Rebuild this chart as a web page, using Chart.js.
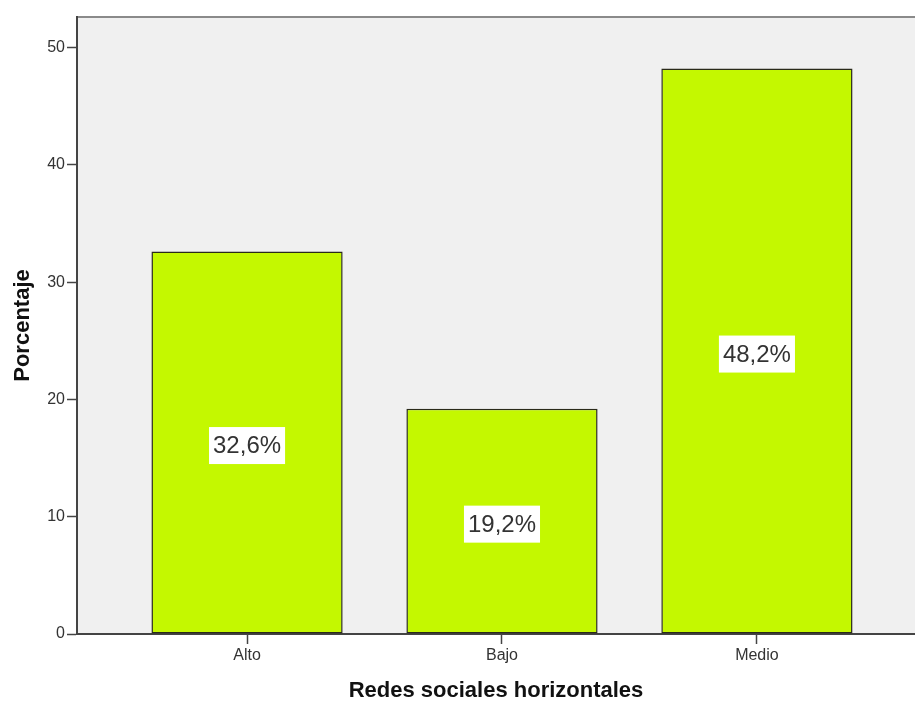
<!DOCTYPE html>
<html>
<head>
<meta charset="utf-8">
<script src="https://cdn.jsdelivr.net/npm/chart.js@4.4.1/dist/chart.umd.min.js"></script>
<style>
  html, body { margin: 0; padding: 0; background: #ffffff; }
  #wrap { width: 915px; height: 702px; position: relative; }
</style>
</head>
<body>
<div id="wrap"><canvas id="c"></canvas></div>
<script>
// ---- data ----
const categories = ["Alto", "Bajo", "Medio"];
const percentValues = [32.6, 19.2, 48.2];
const valueLabels = ["32,6%", "19,2%", "48,2%"];
const yTickValues = [0, 10, 20, 30, 40, 50];
const xTitle = "Redes sociales horizontales";
const yTitle = "Porcentaje";

const points = categories.map((c, i) => ({ x: i, y: percentValues[i] }));

const plotBackground = {
  id: 'plotBackground',
  beforeDraw(chart) {
    const { ctx, chartArea: a } = chart;
    ctx.save();
    ctx.fillStyle = '#f0f0f0';
    ctx.fillRect(a.left, a.top, a.right - a.left, a.bottom - a.top);
    ctx.strokeStyle = '#8a8a8a';
    ctx.lineWidth = 2;
    ctx.beginPath();
    ctx.moveTo(a.left, a.top);
    ctx.lineTo(a.right, a.top);
    ctx.stroke();
    ctx.restore();
  }
};

const barLabels = {
  id: 'barLabels',
  afterDatasetsDraw(chart) {
    const { ctx } = chart;
    const meta = chart.getDatasetMeta(0);
    ctx.save();
    ctx.font = '24px "Liberation Sans", Arial, sans-serif';
    ctx.textAlign = 'center';
    ctx.textBaseline = 'middle';
    meta.data.forEach((bar, i) => {
      const text = valueLabels[i];
      const cx = bar.x;
      const cy = (bar.y + bar.base) / 2 + 3;
      const w = ctx.measureText(text).width + 8;
      const h = 37;
      ctx.fillStyle = '#ffffff';
      ctx.fillRect(cx - w / 2, cy - h / 2, w, h);
      ctx.fillStyle = '#333333';
      ctx.fillText(text, cx, cy + 1);
    });
    ctx.restore();
  }
};

new Chart(document.getElementById('c'), {
  type: 'bar',
  data: {
    datasets: [{
      data: points,
      backgroundColor: '#c4f800',
      borderColor: '#2a2a1a',
      borderWidth: 1.5,
      borderSkipped: false,
      categoryPercentage: 1,
      barPercentage: 0.75
    }]
  },
  options: {
    responsive: true,
    maintainAspectRatio: false,
    animation: false,
    layout: { padding: { top: 17, right: 0, left: 0, bottom: 0 } },
    plugins: {
      legend: { display: false },
      tooltip: { enabled: false }
    },
    scales: {
      x: {
        type: 'linear',
        offset: false,
        min: -0.667,
        max: 2.62,
        afterBuildTicks(scale) { scale.ticks = categories.map((c, i) => ({ value: i })); },
        afterFit(scale) { scale.height = 68; },
        ticks: {
          callback: (v) => categories[v],
          color: '#333333',
          font: { family: '"Liberation Sans", Arial, sans-serif', size: 16 },
          padding: 2,
          maxRotation: 0,
          autoSkip: false
        },
        grid: {
          display: true,
          offset: false,
          drawOnChartArea: false,
          drawTicks: true,
          tickLength: 10,
          tickColor: '#444444',
          tickWidth: 1.5
        },
        border: { display: true, color: '#444444', width: 2 },
        title: {
          display: true,
          text: xTitle,
          color: '#111111',
          font: { family: '"Liberation Sans", Arial, sans-serif', size: 22, weight: 'bold', lineHeight: 1 },
          padding: { top: 0, bottom: 0 }
        }
      },
      y: {
        type: 'linear',
        min: 0,
        max: 52.6,
        afterBuildTicks(scale) { scale.ticks = yTickValues.map(v => ({ value: v })); },
        afterFit(scale) { scale.width = 77; },
        ticks: {
          color: '#333333',
          font: { family: '"Liberation Sans", Arial, sans-serif', size: 16 },
          padding: 2
        },
        grid: {
          display: true,
          drawOnChartArea: false,
          drawTicks: true,
          tickLength: 10,
          tickColor: '#444444',
          tickWidth: 1.5
        },
        border: { display: true, color: '#444444', width: 2 },
        title: {
          display: true,
          text: yTitle,
          color: '#111111',
          font: { family: '"Liberation Sans", Arial, sans-serif', size: 22, weight: 'bold', lineHeight: 1 },
          padding: { top: 12, bottom: 0 }
        }
      }
    }
  },
  plugins: [plotBackground, barLabels]
});
</script>
</body>
</html>
